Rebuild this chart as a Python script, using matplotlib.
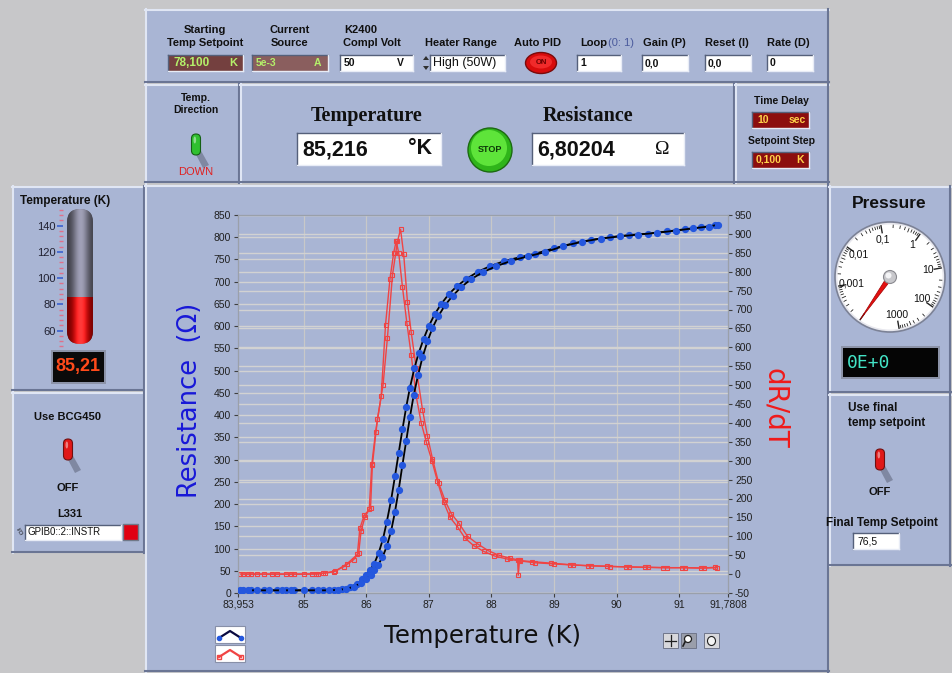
import numpy as np
import matplotlib
matplotlib.use('Agg')
import matplotlib.pyplot as plt
from matplotlib.patches import Rectangle, FancyBboxPatch, Circle, Ellipse, Polygon
from matplotlib.lines import Line2D
from matplotlib.ticker import MultipleLocator

plt.rcParams['axes.unicode_minus'] = False
plt.rcParams['font.family'] = ['Liberation Sans', 'DejaVu Sans']

# ---------------- data ----------------
x_ticks = [83.953, 85, 86, 87, 88, 89, 90, 91, 91.7808]
x_tick_labels = ['83,953', '85', '86', '87', '88', '89', '90', '91', '91,7808']
res_ticks = list(range(0, 851, 50))
drdt_ticks = list(range(-50, 951, 50))

# Resistance sweep A
T_res_a = [83.99, 84.16, 84.37, 84.57, 84.72, 84.85, 85.13, 85.31, 85.48, 85.62,
           85.74, 85.86, 85.94, 86.00, 86.06, 86.13, 86.20, 86.27, 86.33, 86.40,
           86.46, 86.52, 86.58, 86.64, 86.70, 86.77, 86.84, 86.92, 87.00, 87.10,
           87.20, 87.32, 87.45, 87.60, 87.78, 87.98, 88.20, 88.45, 88.70, 89.00,
           89.30, 89.60, 89.90, 90.20, 90.50, 90.80, 91.10, 91.35, 91.58]
R_res_a = [6, 6, 6, 6, 6, 6, 6, 6, 7, 9,
           13, 21, 31, 41, 52, 66, 90, 122, 160, 210,
           262, 315, 368, 418, 462, 505, 540, 572, 600, 628,
           650, 672, 690, 706, 722, 735, 746, 755, 763, 775,
           786, 794, 800, 805, 808, 813, 818, 822, 827]
# Resistance sweep B
T_res_b = [84.03, 84.11, 84.26, 84.45, 84.65, 84.80, 85.00, 85.23, 85.40, 85.55,
           85.68, 85.80, 85.92, 86.00, 86.07, 86.13, 86.19, 86.26, 86.33, 86.40,
           86.46, 86.52, 86.58, 86.64, 86.70, 86.76, 86.83, 86.90, 86.98, 87.06,
           87.15, 87.26, 87.38, 87.52, 87.68, 87.86, 88.08, 88.32, 88.58, 88.85,
           89.15, 89.45, 89.75, 90.05, 90.35, 90.65, 90.95, 91.22, 91.47, 91.62]
R_res_b = [6, 6, 6, 6, 6, 6, 6, 6, 6, 7,
           9, 14, 22, 31, 41, 51, 63, 80, 105, 140,
           182, 232, 288, 342, 396, 445, 490, 530, 566, 596,
           622, 647, 668, 688, 706, 721, 735, 747, 757, 766,
           780, 790, 797, 802, 806, 810, 815, 820, 824, 828]
# dR/dT sweep A
T_der_a = [83.99, 84.11, 84.26, 84.37, 84.57, 84.72, 84.85, 85.13, 85.23, 85.31,
           85.48, 85.65, 85.80, 85.88, 85.92, 85.98, 86.05, 86.09, 86.15, 86.24,
           86.31, 86.38, 86.44, 86.48, 86.52, 86.58, 86.65, 86.72, 86.80, 86.88,
           86.96, 87.05, 87.14, 87.24, 87.34, 87.46, 87.58, 87.72, 87.88, 88.05,
           88.25, 88.45, 88.70, 89.00, 89.30, 89.60, 89.90, 90.20, 90.50, 90.80,
           91.10, 91.40, 91.60]
D_der_a = [0, 0, 0, 0, 0, 0, 0, 0, 0, 2,
           6, 20, 38, 55, 115, 150, 172, 290, 375, 470,
           660, 780, 850, 881, 850, 760, 665, 580, 470, 400,
           350, 300, 245, 190, 150, 125, 95, 75, 60, 48,
           40, 35, 30, 27, 24, 22, 20, 19, 18, 17,
           17, 16, 17]
# dR/dT sweep B
T_der_b = [84.03, 84.16, 84.50, 84.80, 85.00, 85.20, 85.34, 85.51, 85.70, 85.86,
           85.90, 85.97, 86.07, 86.10, 86.18, 86.27, 86.34, 86.42, 86.50, 86.55,
           86.60, 86.66, 86.72, 86.80, 86.90, 86.98, 87.06, 87.16, 87.26, 87.36,
           87.48, 87.62, 87.78, 87.95, 88.12, 88.30, 88.42, 88.43, 88.45, 88.65,
           88.95, 89.25, 89.55, 89.85, 90.15, 90.45, 90.75, 91.05, 91.35, 91.58]
D_der_b = [0, 0, 0, 0, 0, 1, 3, 8, 28, 52,
           121, 156, 174, 289, 410, 500, 625, 790, 880, 912,
           846, 720, 640, 545, 435, 365, 305, 240, 195, 160,
           135, 100, 80, 62, 50, 42, 38, -3, 36, 33,
           29, 25, 22, 21, 19, 18, 17, 17, 16, 18]

therm_ticks = [60, 80, 100, 120, 140]
therm_value = 85.21
pressure_values = [0.001, 0.01, 0.1, 1, 10, 100, 1000]
pressure_labels = ['0,001', '0,01', '0,1', '1', '10', '100', '1000']

# ---------------- figure ----------------
W, H = 952, 673
fig = plt.figure(figsize=(W / 100, H / 100), dpi=100)
fig.patch.set_facecolor('#c7c7c9')

bg = fig.add_axes([0, 0, 1, 1])
bg.set_xlim(0, W)
bg.set_ylim(H, 0)
bg.axis('off')

PANEL = '#a9b5d4'
LIGHT = '#e0e6f4'
DARK = '#6a7594'


def frac(x0, y0, x1, y1):
    return [x0 / W, 1 - y1 / H, (x1 - x0) / W, (y1 - y0) / H]


def panel(x0, y0, x1, y1):
    bg.add_patch(Rectangle((x0, y0), x1 - x0, y1 - y0, fc=PANEL, ec='none', zorder=1))
    bg.plot([x0, x1], [y0 + 1, y0 + 1], color=LIGHT, lw=1.5, zorder=2)
    bg.plot([x0 + 1, x0 + 1], [y0, y1], color=LIGHT, lw=1.5, zorder=2)
    bg.plot([x0, x1], [y1 - 1, y1 - 1], color=DARK, lw=1.5, zorder=2)
    bg.plot([x1 - 1, x1 - 1], [y0, y1], color=DARK, lw=1.5, zorder=2)


def field(x0, y0, x1, y1, fc='white'):
    bg.add_patch(Rectangle((x0, y0), x1 - x0, y1 - y0, fc=fc, ec='none', zorder=3))
    bg.plot([x0, x1], [y0, y0], color='#55607a', lw=1, zorder=4)
    bg.plot([x0, x0], [y0, y1], color='#55607a', lw=1, zorder=4)
    bg.plot([x0, x1], [y1, y1], color='#e8ecf6', lw=1, zorder=4)
    bg.plot([x1, x1], [y0, y1], color='#e8ecf6', lw=1, zorder=4)


def label(x, y, s, size=7.5, ha='center', color='#101010', weight='bold', **kw):
    bg.text(x, y, s, fontsize=size, ha=ha, va='center', color=color,
            fontweight=weight, zorder=6, **kw)


def toggle(cx, cy, color, edge):
    bg.add_patch(Polygon([[cx - 3, cy + 4], [cx + 4, cy + 4], [cx + 13, cy + 20], [cx + 7, cy + 23]],
                         fc='#7f88a2', ec='none', zorder=3))
    bg.add_patch(FancyBboxPatch((cx - 4.5, cy - 11), 9, 21,
                                boxstyle='round,pad=0,rounding_size=4.5',
                                fc=color, ec=edge, lw=0.8, zorder=4))
    bg.add_patch(Ellipse((cx - 1.2, cy - 5), 2.6, 7, fc='white', alpha=0.45, ec='none', zorder=5))


# ---- panels ----
panel(145, 9, 829, 83)
panel(145, 84, 240, 183)
panel(240, 84, 735, 183)
panel(735, 84, 829, 183)
panel(12, 186, 145, 391)
panel(12, 392, 145, 553)
panel(145, 185, 829, 672)
panel(829, 186, 951, 393)
panel(829, 394, 951, 566)

# ---- top bar ----
label(205, 30, 'Starting', size=8)
label(205, 43, 'Temp Setpoint', size=8)
field(168, 55, 243, 71, fc='#74403f')
label(173, 63, '78,100', ha='left', color='#b4f06a', size=8.5)
label(233, 63, 'K', color='#b4f06a', size=8)

label(290, 30, 'Current', size=8)
label(290, 43, 'Source', size=8)
field(252, 55, 328, 71, fc='#8a5e5e')
label(256, 63, '5e-3', ha='left', color='#b4f06a', size=7.5)
label(317, 63, 'A', color='#b4f06a', size=7.5)

label(344, 30, 'K2400', ha='left', size=8)
label(343, 43, 'Compl Volt', ha='left', size=8)
field(340, 55, 413, 71)
label(344, 63, '50', ha='left', size=7.5)
label(400, 63, 'V', size=7.5)

label(461, 43, 'Heater Range', size=8)
bg.add_patch(Polygon([[423, 60], [429, 60], [426, 56]], fc='#303030', ec='none', zorder=5))
bg.add_patch(Polygon([[423, 66], [429, 66], [426, 70]], fc='#303030', ec='none', zorder=5))
field(430, 55, 505, 71)
label(433, 63, 'High (50W)', ha='left', size=9, weight='normal')

label(538, 43, 'Auto PID', size=8)
bg.add_patch(Ellipse((541, 63), 31, 21, fc='#d80c0c', ec='#7a0a0a', lw=1, zorder=4))
bg.add_patch(Ellipse((541, 62), 22, 13, fc='#f02a2a', ec='none', zorder=5))
label(541, 63, 'ON', size=5.5, color='#6a0000')

label(580, 43, 'Loop', ha='left', size=8)
label(608, 43, '(0: 1)', ha='left', color='#4a5a9c', weight='normal', size=8)
field(577, 55, 621, 71)
label(580, 63, '1', ha='left')

label(664, 43, 'Gain (P)', size=8)
field(642, 55, 688, 71)
label(645, 63, '0,0', ha='left')

label(727, 43, 'Reset (I)', size=8)
field(705, 55, 751, 71)
label(708, 63, '0,0', ha='left')

label(788, 43, 'Rate (D)', size=8)
field(767, 55, 813, 71)
label(770, 63, '0', ha='left')

# ---- second row ----
label(196, 98, 'Temp.')
label(196, 110, 'Direction')
toggle(196, 145, '#30c030', '#146014')
label(196, 172, 'DOWN', color='#e02020', weight='normal', size=8)

label(367, 116, 'Temperature', size=14.5, family='Liberation Serif')
field(297, 133, 441, 165)
label(302, 150, '85,216', ha='left', size=15.5)
label(420, 148, '°K', size=15.5)

bg.add_patch(Circle((490, 150), 22, fc='#2fb51a', ec='#1c6a10', lw=1, zorder=4))
bg.add_patch(Circle((489, 148), 18, fc='#5ee43a', ec='none', zorder=5))
label(490, 150, 'STOP', size=6.5, color='#0e3a08')

label(588, 116, 'Resistance', size=14.5, family='Liberation Serif')
field(532, 133, 684, 165)
label(537, 150, '6,80204', ha='left', size=15.5)
label(662, 150, 'Ω', size=14, weight='normal', family='Liberation Serif')

label(781, 101, 'Time Delay', size=7.5)
field(752, 112, 809, 128, fc='#8c0e0e')
label(757, 120, '10', ha='left', color='#ffd24a', size=7.5)
label(797, 120, 'sec', color='#ffd24a', size=7.5)
label(781, 141, 'Setpoint Step', size=7.5)
field(752, 152, 809, 168, fc='#8c0e0e')
label(756, 160, '0,100', ha='left', color='#ffd24a', size=7.5)
label(800, 160, 'K', color='#ffd24a', size=7.5)

# ---- thermometer panel ----
label(20, 201, 'Temperature (K)', ha='left', size=8.5)
ppk = 105.0 / 80.0     # pixels per kelvin of the reference scale
tx0, ty0, tx1, ty1 = 30, 205, 110, 350
axt = fig.add_axes(frac(tx0, ty0, tx1, ty1))
ylo = therm_ticks[0] - (ty1 - 330.7) / ppk
yhi = therm_ticks[-1] + (225.7 - ty0) / ppk
axt.set_ylim(ylo, yhi)
axt.set_xlim(0, (tx1 - tx0) / ppk)
axt.patch.set_visible(False)
tube_l, tube_r = (67 - tx0) / ppk, (93 - tx0) / ppk
tube_b, tube_t = ylo + (ty1 - 344) / ppk, yhi - (209 - ty0) / ppk
capsule = FancyBboxPatch((tube_l, tube_b), tube_r - tube_l, tube_t - tube_b,
                         boxstyle='round,pad=0,rounding_size=%f' % ((tube_r - tube_l) / 2),
                         fc='#6e6e7c', ec='none')
axt.add_patch(capsule)
xs = np.linspace(0, 1, 80)
shade = np.clip(0.55 + 0.75 * np.sin(np.pi * (0.85 * xs + 0.05)) ** 3, 0, 1.35)
gray_img = np.clip(np.array([0.42, 0.42, 0.48])[None, None, :] * shade[None, :, None] * 1.15, 0, 1)
red_img = np.clip(np.array([0.85, 0.0, 0.0])[None, None, :] * shade[None, :, None] + np.array([0, 0.08, 0.08]) * shade[None, :, None] ** 4, 0, 1)
im1 = axt.imshow(gray_img, extent=(tube_l, tube_r, tube_b, tube_t), aspect='auto', zorder=2)
im1.set_clip_path(capsule)
im2 = axt.imshow(red_img, extent=(tube_l, tube_r, tube_b, therm_value), aspect='auto', zorder=3)
im2.set_clip_path(capsule)
axt.set_xlim(0, (tx1 - tx0) / ppk)
axt.set_ylim(ylo, yhi)
for s in ['top', 'right', 'bottom']:
    axt.spines[s].set_visible(False)
axt.spines['left'].set_position(('data', (63 - tx0) / ppk))
axt.spines['left'].set_color('none')
axt.set_xticks([])
axt.set_yticks(therm_ticks)
axt.yaxis.set_minor_locator(MultipleLocator(4))
axt.tick_params(axis='y', which='major', length=4, width=1.2, color='#3a62d0',
                labelsize=8, labelcolor='#202030', pad=1)
axt.tick_params(axis='y', which='minor', length=3, width=1, color='#e0708a')

bg.add_patch(Rectangle((51, 350), 55, 34, fc='#8c93a8', ec='none', zorder=3))
bg.add_patch(Rectangle((53, 352), 51, 30, fc='#0a0a0a', ec='none', zorder=4))
label(78, 367, '85,21', size=13, color='#ff4a1a')

# ---- BCG panel ----
label(68, 417, 'Use BCG450', size=8)
toggle(68, 450, '#e01818', '#701010')
label(68, 488, 'OFF', size=8)
label(70, 514, 'L331', size=8)
label(19, 532, 'I/O', size=4.5, weight='normal', rotation=-60)
field(25, 525, 121, 540)
label(27, 532, 'GPIB0::2::INSTR', ha='left', size=7, weight='normal')
bg.add_patch(Rectangle((123, 524), 15, 16, fc='#e00012', ec='#707888', lw=1, zorder=4))

# ---- pressure gauge ----
label(889, 204, 'Pressure', size=12.5)
axg = fig.add_axes(frac(830, 217, 950, 337))
axg.set_xlim(-60, 60)
axg.set_ylim(-60, 60)
axg.axis('off')
axg.add_patch(Circle((0, 0), 55, fc='#e8e8ee', ec='#7c8296', lw=1.2))
axg.add_patch(Circle((0, 0), 52.5, fc='white', ec='none'))


def gauge_angle(v):
    return np.deg2rad(190.0 - 45.0 * (np.log10(v) + 3.0))


for dec in range(-4, 3):
    for m in range(1, 10):
        v = m * 10.0 ** dec
        a = gauge_angle(v)
        r0 = 45 if m == 1 else (48.5 if m == 5 else 49.5)
        axg.plot([r0 * np.cos(a), 52 * np.cos(a)], [r0 * np.sin(a), 52 * np.sin(a)],
                 color='#222222', lw=1.0 if m == 1 else 0.6)
a_end = gauge_angle(1000)
axg.plot([45 * np.cos(a_end), 52 * np.cos(a_end)], [45 * np.sin(a_end), 52 * np.sin(a_end)],
         color='#222222', lw=1.0)
for v, s in zip(pressure_values, pressure_labels):
    a = gauge_angle(v)
    axg.text(38.5 * np.cos(a), 38.5 * np.sin(a), s, fontsize=7.5, ha='center', va='center', color='#111111')
a_n = gauge_angle(0.0001)
tip = np.array([52 * np.cos(a_n), 52 * np.sin(a_n)])
perp = np.array([-np.sin(a_n), np.cos(a_n)]) * 2.6
axg.add_patch(Polygon([perp, tip, -perp], fc='#e41010', ec='#a00000', lw=0.5, zorder=3))
axg.add_patch(Circle((0, 0), 6.5, fc='#c8c8cc', ec='#8a8a90', lw=0.8, zorder=4))
axg.add_patch(Circle((-1.5, 1.5), 3, fc='#f4f4f6', ec='none', zorder=5))

bg.add_patch(Rectangle((841, 346), 99, 33, fc='#8c93a8', ec='none', zorder=3))
bg.add_patch(Rectangle((843, 348), 95, 29, fc='#050505', ec='none', zorder=4))
label(847, 363, '0E+0', ha='left', size=13, color='#43e3c6', weight='normal', family='DejaVu Sans Mono')

# ---- final setpoint panel ----
label(848, 408, 'Use final', ha='left', size=8.5)
label(848, 423, 'temp setpoint', ha='left', size=8.5)
toggle(880, 460, '#e01818', '#701010')
label(880, 492, 'OFF', size=8)
label(826, 523, 'Final Temp Setpoint', ha='left', size=8.5)
field(853, 533, 899, 549)
label(857, 541, '76,5', ha='left', size=7.5, weight='normal')

# ---------------- chart ----------------
ax = fig.add_axes(frac(238, 215, 728, 593))
ax2 = ax.twinx()
ax.set_zorder(3)
ax2.set_zorder(2)
ax.patch.set_visible(False)
ax2.set_facecolor('white')

RED = '#f04444'
ax2.plot(T_der_a, D_der_a, color=RED, lw=1.0, marker='s', ms=3.3, mfc='none', mec=RED, mew=0.8, zorder=3)
ax2.plot(T_der_b, D_der_b, color=RED, lw=1.0, marker='s', ms=3.3, mfc='none', mec=RED, mew=0.8, zorder=3)
ax.plot(T_res_a, R_res_a, color='black', lw=1.3, marker='o', ms=4.2, mfc='#2457de', mec='#2457de', zorder=3)
ax.plot(T_res_b, R_res_b, color='black', lw=1.3, marker='o', ms=4.2, mfc='#2457de', mec='#2457de', zorder=3)

ax.set_xlim(x_ticks[0], x_ticks[-1])
ax.set_ylim(res_ticks[0], res_ticks[-1])
ax2.set_ylim(drdt_ticks[0], drdt_ticks[-1])

ax.set_xticks(x_ticks)
ax.set_xticklabels(x_tick_labels)
ax.set_yticks(res_ticks)
ax2.set_yticks(drdt_ticks)

GRID = '#d2d2d2'
ax.grid(False)
ax2.grid(False)
for xv in x_ticks[1:-1]:
    ax2.axvline(xv, color='#c8c8c8', lw=0.9, zorder=1)
for v in drdt_ticks:
    ax2.axhline(v, color=GRID, lw=1.0, zorder=1)
for v in res_ticks:
    ax2.add_line(Line2D([0, 1], [v, v], transform=ax.get_yaxis_transform(), color=GRID, lw=1.0, zorder=1))

for a_ in (ax, ax2):
    for s in a_.spines.values():
        s.set_color('#9aa0aa')
        s.set_linewidth(0.8)
ax.tick_params(axis='both', labelsize=7.5, colors='#404040', labelcolor='#202020', length=3, width=0.8, pad=2)
ax2.tick_params(axis='y', labelsize=7.5, colors='#404040', labelcolor='#202020', length=3, width=0.8, pad=2)

ax.set_ylabel('Resistance  (Ω)', fontsize=18.5, color='#1818d8', family='DejaVu Sans')
ax.yaxis.set_label_coords((203 - 238) / 490, (593 - 400) / 378)
ax2.set_ylabel('dR/dT', fontsize=20, color='#f01a1a', rotation=270, va='center', family='DejaVu Sans')
ax2.yaxis.set_label_coords((775 - 238) / 490, (593 - 408) / 378)
ax.set_xlabel('Temperature (K)', fontsize=17.5, color='#101010', family='DejaVu Sans')
ax.xaxis.set_label_coords((482 - 238) / 490, (593 - 624) / 378)

# ---- legend icons ----
for i, (lc, mc, mk) in enumerate([('#0a0a40', '#2457de', 'o'), (RED, RED, 's')]):
    y0 = 626 + 19 * i
    bg.add_patch(Rectangle((215, y0), 30, 17, fc='white', ec='#8890a8', lw=0.8, zorder=3))
    bg.plot([219, 230, 241], [y0 + 12, y0 + 5, y0 + 12], color=lc, lw=1.6, zorder=4)
    bg.plot([219, 241], [y0 + 12, y0 + 12], ls='none', marker=mk, ms=3, mfc=mc if mk == 'o' else 'none',
            mec=mc, zorder=5)

# ---- tool icons ----
for i, x0 in enumerate([663, 681, 704]):
    bg.add_patch(Rectangle((x0, 633), 15, 15, fc='#d8d8dc' if i != 1 else '#9a9eaa', ec='#70768a', lw=0.7, zorder=3))
bg.plot([670.5, 670.5], [635, 646], color='#202020', lw=0.9, zorder=4)
bg.plot([665, 676], [640.5, 640.5], color='#202020', lw=0.9, zorder=4)
bg.add_patch(Circle((688, 639), 3.5, fc='white', ec='#202020', lw=0.9, zorder=4))
bg.plot([685, 683], [642, 646], color='#202020', lw=1.2, zorder=4)
bg.add_patch(Ellipse((711.5, 641), 8, 9, fc='#f4f4f4', ec='#202020', lw=0.8, zorder=4))

fig.savefig('out.png', dpi=100, facecolor=fig.get_facecolor())
